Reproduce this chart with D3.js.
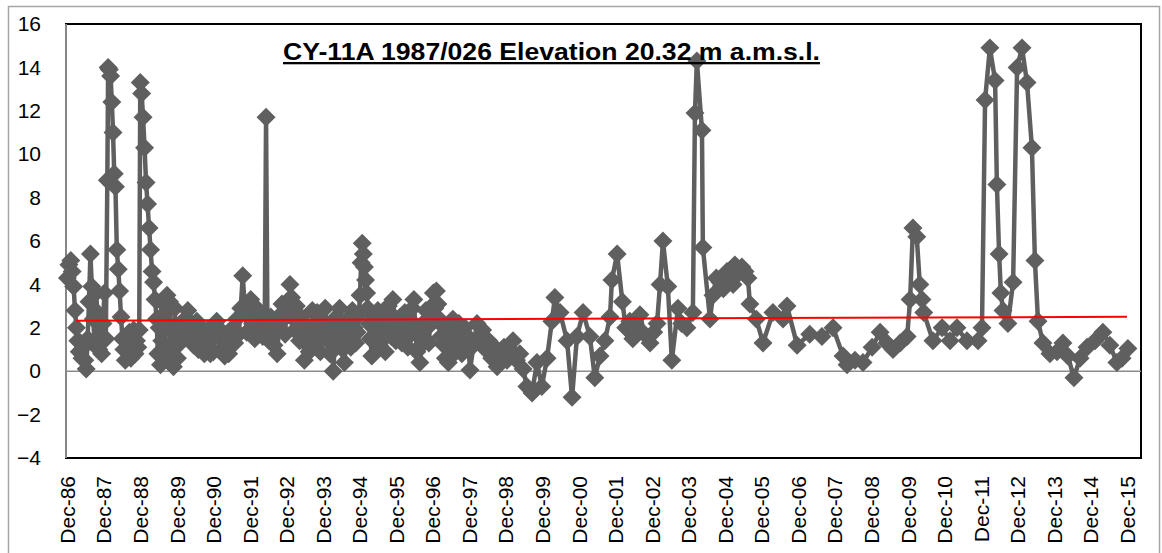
<!DOCTYPE html>
<html>
<head>
<meta charset="utf-8">
<script src="https://cdn.jsdelivr.net/npm/d3@7"></script>
<style>
body{margin:0;background:#fff}
svg text{font-family:"Liberation Sans",Arial,sans-serif;fill:#000}
</style>
</head>
<body>
<script>
// sample dates, one line per year
var sampleDates=[
"1986-12-05","1986-12-20",
"1987-01-08","1987-01-22","1987-02-05","1987-02-19","1987-03-05","1987-03-19","1987-04-02","1987-04-16","1987-04-30","1987-05-14","1987-05-28","1987-06-11","1987-06-25","1987-07-09","1987-07-23","1987-08-06","1987-08-20","1987-09-03","1987-09-17","1987-10-01","1987-10-15","1987-10-29","1987-11-12","1987-11-26","1987-12-10","1987-12-24",
"1988-01-08","1988-01-16","1988-01-28","1988-02-10","1988-02-22","1988-03-05","1988-03-17","1988-03-29","1988-04-12","1988-04-26","1988-05-10","1988-05-24","1988-06-07","1988-06-21","1988-07-05","1988-07-19","1988-08-02","1988-08-16","1988-08-30","1988-09-13","1988-09-27","1988-10-11","1988-10-25","1988-11-08","1988-11-22","1988-12-02","1988-12-16","1988-12-30",
"1989-01-14","1989-01-29","1989-02-13","1989-02-28","1989-03-15","1989-03-30","1989-04-14","1989-04-29","1989-05-14","1989-05-27","1989-06-09","1989-06-22","1989-07-05","1989-07-18","1989-07-31","1989-08-13","1989-08-26","1989-09-08","1989-09-21","1989-10-04","1989-10-17","1989-10-30","1989-11-12","1989-11-25","1989-12-08","1989-12-21",
"1990-01-05","1990-01-20","1990-02-05","1990-02-20","1990-03-07","1990-03-22","1990-04-06","1990-04-21","1990-05-06","1990-05-21","1990-06-05","1990-06-20","1990-07-05","1990-07-20","1990-08-04","1990-08-19","1990-09-03","1990-09-18","1990-10-03","1990-10-18","1990-11-02","1990-11-17","1990-12-02","1990-12-17",
"1991-01-05","1991-01-25","1991-02-14","1991-03-06","1991-03-26","1991-04-15","1991-05-05","1991-05-25","1991-06-14","1991-07-04","1991-07-24","1991-08-13","1991-09-02","1991-09-22","1991-10-12","1991-11-01","1991-11-21","1991-12-11","1991-12-31",
"1992-01-20","1992-02-09","1992-02-29","1992-03-20","1992-04-09","1992-04-29","1992-05-12","1992-05-26","1992-06-12","1992-06-28","1992-07-14","1992-07-30","1992-08-15","1992-08-31","1992-09-16","1992-10-02","1992-10-18","1992-11-03","1992-11-19","1992-12-05","1992-12-21",
"1993-01-06","1993-01-22","1993-02-07","1993-02-23","1993-03-11","1993-03-27","1993-04-12","1993-04-28","1993-05-14","1993-05-30","1993-06-15","1993-07-01","1993-07-17","1993-08-02","1993-08-18","1993-09-03","1993-09-19","1993-10-05","1993-10-21","1993-11-06","1993-11-22","1993-12-08","1993-12-24",
"1994-01-09","1994-01-25","1994-02-10","1994-02-26","1994-03-14","1994-03-30","1994-04-15","1994-05-01","1994-05-17","1994-06-02","1994-06-18","1994-07-04","1994-07-20","1994-08-05","1994-08-21","1994-09-06","1994-09-22","1994-10-08","1994-10-24","1994-11-09","1994-11-25","1994-12-07","1994-12-18","1994-12-29",
"1995-01-09","1995-01-20","1995-01-31","1995-02-11","1995-02-22","1995-03-05","1995-03-20","1995-04-04","1995-04-19","1995-05-04","1995-05-19","1995-06-03","1995-06-18","1995-07-03","1995-07-18","1995-08-02","1995-08-17","1995-09-01","1995-09-16","1995-10-01","1995-10-16","1995-10-31","1995-11-15","1995-11-30","1995-12-15","1995-12-30",
"1996-01-14","1996-01-29","1996-02-13","1996-02-28","1996-03-14","1996-03-29","1996-04-13","1996-04-28","1996-05-13","1996-05-28","1996-06-12","1996-06-27","1996-07-12","1996-07-27","1996-08-11","1996-08-26","1996-09-10","1996-09-25","1996-10-10","1996-10-25","1996-11-09","1996-11-24","1996-12-09","1996-12-24",
"1997-01-08","1997-01-23","1997-02-07","1997-02-22","1997-03-09","1997-03-24","1997-04-08","1997-04-23","1997-05-08","1997-05-23","1997-06-07","1997-06-22","1997-07-07","1997-07-22","1997-08-06","1997-08-21","1997-09-05","1997-09-20","1997-10-05","1997-10-20","1997-11-04","1997-11-19","1997-12-10",
"1998-01-15","1998-02-18","1998-03-15","1998-04-15","1998-05-15","1998-06-15","1998-07-15","1998-08-15","1998-09-07","1998-10-15","1998-11-15","1998-12-15",
"1999-01-15","1999-02-13","1999-03-20","1999-04-22","1999-05-25","1999-07-01","1999-08-22","1999-10-10","1999-11-28",
"2000-01-19","2000-03-07","2000-04-06","2000-05-28","2000-08-06","2000-09-25","2000-11-13",
"2001-01-13","2001-03-22","2001-05-10","2001-07-01","2001-08-19","2001-10-09","2001-10-28","2001-12-19",
"2002-02-10","2002-03-15","2002-04-25","2002-05-25","2002-06-30","2002-08-04","2002-09-20","2002-11-13","2002-12-20",
"2003-01-22","2003-02-21","2003-03-22","2003-05-10","2003-06-19","2003-08-19","2003-09-25","2003-11-16",
"2004-01-15","2004-02-05","2004-02-24","2004-04-15","2004-04-24","2004-07-04","2004-08-03","2004-09-05","2004-10-12","2004-11-15","2004-12-21",
"2005-01-25","2005-02-20","2005-03-10","2005-04-15","2005-05-19","2005-06-20","2005-07-18","2005-08-07","2005-10-10","2005-12-16",
"2006-03-25","2006-07-04","2006-08-13","2006-11-22",
"2007-03-28","2007-07-28","2007-11-16",
"2008-02-24","2008-04-04","2008-06-22","2008-09-10","2008-12-10",
"2009-02-28","2009-05-07","2009-07-07","2009-09-16","2009-11-25","2009-12-25",
"2010-01-22","2010-03-01","2010-04-01","2010-04-22","2010-05-10","2010-08-10","2010-11-10",
"2011-01-28","2011-04-07","2011-07-16","2011-11-04","2011-12-13",
"2012-01-13","2012-03-01","2012-04-22","2012-05-10","2012-06-01","2012-06-19","2012-07-10","2012-08-28","2012-10-19","2012-11-28",
"2013-01-16","2013-03-07","2013-04-25","2013-05-25","2013-06-25","2013-08-13","2013-10-22",
"2014-01-01","2014-03-01","2014-04-19","2014-06-19","2014-08-19","2014-10-28",
"2015-01-16","2015-04-04","2015-06-13","2015-08-22","2015-10-13","2015-12-10"
]

// water level (m), same order as sampleDates
var levels=[
4.3,4.9,
5.1,4.6,3.9,2.8,2.0,1.4,0.9,1.3,0.6,1.1,0.5,0.1,1.5,3.2,5.4,3.9,2.4,1.3,3.6,2.7,1.0,1.6,0.8,2.2,3.6,1.5,
8.8,14.0,13.9,13.6,12.4,11.0,9.1,8.5,5.6,4.7,3.7,2.5,1.5,1.0,0.5,1.6,0.9,1.8,0.6,1.2,1.9,0.8,1.4,1.1,1.9,13.3,12.8,11.7,
10.3,8.7,7.7,6.6,5.6,4.6,4.1,3.3,2.4,0.8,2.0,0.3,1.4,2.6,1.0,3.0,3.5,2.2,3.2,0.5,1.8,0.2,2.9,1.2,0.6,1.9,
1.3,2.2,1.5,2.4,1.7,2.8,2.3,1.5,2.1,1.2,1.8,2.3,1.0,1.7,2.0,1.3,0.8,1.4,1.9,1.1,0.8,1.5,0.9,1.7,
2.3,1.6,1.0,1.8,0.7,1.2,0.8,1.5,2.0,1.3,2.4,1.7,2.9,4.4,3.0,1.8,2.6,3.3,2.2,
1.5,2.9,1.9,2.4,1.6,2.1,11.7,2.0,1.4,2.5,1.8,1.2,2.2,0.8,1.9,2.6,3.1,2.4,1.7,3.2,2.6,
4.0,3.4,2.6,1.9,3.0,2.2,1.4,2.5,1.8,0.5,2.1,1.3,0.9,1.6,2.8,2.1,1.4,2.7,1.9,0.9,2.3,1.6,2.9,
2.0,1.4,0.8,2.0,0.0,1.2,2.5,1.8,2.9,2.2,1.0,0.4,1.5,2.4,1.7,1.1,2.8,2.0,1.3,1.8,2.6,3.5,5.0,5.9,
5.4,4.8,4.2,3.6,2.9,2.2,1.5,0.7,1.6,2.4,1.9,2.8,1.2,1.9,2.6,1.5,0.9,2.1,3.0,2.3,1.6,3.3,2.5,1.4,2.2,1.7,
2.5,1.3,2.0,2.7,1.8,1.1,2.4,1.7,2.9,3.3,2.0,0.9,1.6,0.4,1.2,2.2,1.5,2.8,2.0,1.3,2.4,3.0,3.6,2.9,
3.7,3.1,2.4,1.6,2.1,1.2,0.6,1.4,0.4,1.1,1.8,2.4,1.5,0.9,1.7,2.2,1.3,0.8,1.5,2.0,1.2,1.6,0.05,
1.2,2.2,1.5,1.9,1.0,1.4,0.6,1.1,0.2,0.7,1.1,0.5,
1.0,1.4,0.5,0.8,0.1,-0.7,-1.0,0.4,-0.7,
0.6,2.3,3.4,2.7,1.4,-1.2,1.6,
2.7,1.6,-0.3,0.7,1.4,2.5,4.2,5.4,
3.2,2.0,2.3,1.5,1.9,2.6,1.7,1.3,1.8,
2.2,4.0,6.0,3.9,0.5,2.9,2.2,2.0,
2.7,11.9,14.3,11.1,5.7,2.4,3.5,4.3,4.1,3.8,4.6,
4.4,4.0,4.9,4.5,4.8,4.6,4.3,3.1,2.4,1.3,
2.7,2.4,3.0,1.2,
1.7,1.6,2.0,
0.7,0.3,0.5,0.4,1.1,
1.8,1.3,1.0,1.3,1.6,3.3,
6.6,6.2,4.0,3.3,2.7,1.4,2.0,
1.4,2.0,1.4,1.4,2.0,
12.5,14.9,13.4,8.6,5.4,3.6,2.8,2.2,4.1,14.0,
14.9,13.3,10.3,5.1,2.3,1.3,0.8,
0.9,1.3,0.7,-0.3,0.6,1.1,
1.4,1.8,1.2,0.4,0.6,1.05
]

// linear trend, end points
var trendDates=["1987-03-01","2015-12-01"]
var trendLevels=[2.33,2.51]

var yTicks=[-4,-2,0,2,4,6,8,10,12,14,16]
var tickYears=d3.range(1986,2016)
var chartTitle="CY-11A 1987/026 Elevation 20.32 m a.m.s.l."

var parse=d3.timeParse("%Y-%m-%d")
var data=sampleDates.map(function(d,i){return {date:parse(d),level:levels[i]}})
var trend=trendDates.map(function(d,i){return {date:parse(d),level:trendLevels[i]}})

var screen={width:1162,height:553}
var plot={left:66,top:24,right:1141,bottom:458}

var svg=d3.select("body").append("svg")
.attr('width', screen.width)
.attr('height', screen.height)

// chart frame
svg.append("rect")
.attr('x', 8.5)
.attr('y', 6.5)
.attr('width', 1151)
.attr('height', 580)
.attr('fill', 'white')
.attr('stroke', '#a6a6a6')
.attr('stroke-width', 1.5)

var x=d3.scaleTime()
.domain([new Date(1986,10,21),new Date(2016,3,19)])
.range([plot.left,plot.right])

var y=d3.scaleLinear()
.domain([-4,16])
.range([plot.bottom,plot.top])

// plot area border
svg.append("rect")
.attr('x', plot.left)
.attr('y', plot.top)
.attr('width', plot.right-plot.left)
.attr('height', plot.bottom-plot.top)
.attr('fill', 'none')
.attr('stroke', '#000')
.attr('stroke-width', 2)

// y axis line
svg.append("line")
.attr('x1', plot.left)
.attr('x2', plot.left)
.attr('y1', plot.top)
.attr('y2', plot.bottom)
.attr('stroke', '#868686')
.attr('stroke-width', 2)

// zero line
svg.append("line")
.attr('x1', plot.left)
.attr('x2', plot.right)
.attr('y1', y(0))
.attr('y2', y(0))
.attr('stroke', '#8c8c8c')
.attr('stroke-width', 1.5)

// y labels
var yAxis=svg.append("g")
.attr('transform', 'translate('+plot.left+',0)')
.call(d3.axisLeft(y).tickValues(yTicks).tickSize(0).tickPadding(25).tickFormat(d3.format("d")))
yAxis.select(".domain").remove()
yAxis.selectAll("text")
.style('font-size', '21px')
.style('font-family', '"Liberation Sans",Arial,sans-serif')

// x labels
var xAxis=svg.append("g")
.attr('transform', 'translate(0,'+plot.bottom+')')
.call(d3.axisBottom(x)
  .tickValues(tickYears.map(function(yr){return new Date(yr,11,1)}))
  .tickSize(0)
  .tickFormat(d3.timeFormat("%b-%y")))
xAxis.select(".domain").remove()
xAxis.selectAll("text")
.attr('transform', 'rotate(-90)')
.attr('x', -18)
.attr('y', 0)
.attr('dy', '0.35em')
.style('text-anchor', 'end')
.style('font-size', '21px')
.style('font-family', '"Liberation Sans",Arial,sans-serif')

// series
var line=d3.line()
.x(function(d){return x(d.date)})
.y(function(d){return y(d.level)})

svg.append("path")
.datum(data)
.attr('d', line)
.attr('fill', 'none')
.attr('stroke', '#5f5f5f')
.attr('stroke-width', 4.5)
.attr('stroke-linejoin', 'round')

var diamond=d3.symbol().type(d3.symbolSquare).size(180)
svg.append("g").selectAll("path")
.data(data)
.enter()
.append("path")
.attr('d', diamond)
.attr('transform', function(d){return 'translate('+x(d.date)+','+y(d.level)+') rotate(45)'})
.attr('fill', '#5f5f5f')

// trend line
svg.append("path")
.datum(trend)
.attr('d', line)
.attr('fill', 'none')
.attr('stroke', '#ff0000')
.attr('stroke-width', 2)

// title
svg.append("text")
.attr('x', 283)
.attr('y', 60)
.text(chartTitle)
.attr('textLength', 537)
.attr('lengthAdjust', 'spacingAndGlyphs')
.style('font-size', '23px')
.style('font-weight', 'bold')
.style('text-decoration', 'underline')
</script>
</body>
</html>
